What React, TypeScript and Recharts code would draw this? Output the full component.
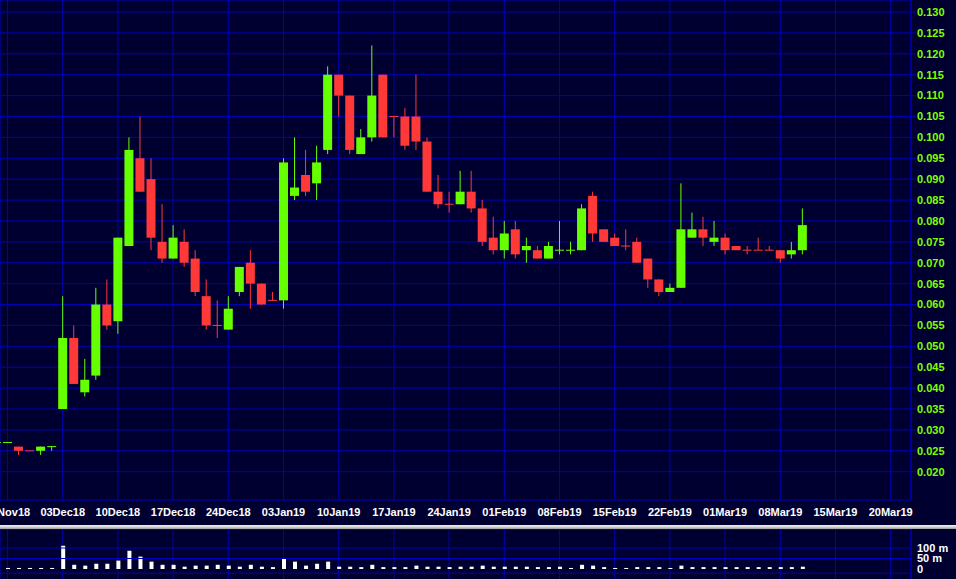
import React from 'react';
import { ComposedChart, Bar, XAxis, YAxis, CartesianGrid, ReferenceLine } from 'recharts';

// trading-day index of each candle = array position (0 = 23Nov18, 73 = 12Mar19)
const opens = [0.027, 0.027, 0.026, 0.025, 0.025, 0.026, 0.035, 0.052, 0.039, 0.043, 0.06, 0.056, 0.074, 0.095, 0.09, 0.075, 0.071, 0.075, 0.071, 0.062, 0.055, 0.054, 0.063, 0.07, 0.065, 0.061, 0.061, 0.086, 0.091, 0.089, 0.097, 0.115, 0.11, 0.096, 0.1, 0.115, 0.105, 0.105, 0.105, 0.099, 0.087, 0.084, 0.084, 0.087, 0.083, 0.076, 0.073, 0.078, 0.073, 0.073, 0.071, 0.073, 0.073, 0.073, 0.086, 0.078, 0.076, 0.074, 0.075, 0.071, 0.066, 0.063, 0.064, 0.076, 0.078, 0.075, 0.076, 0.074, 0.073, 0.073, 0.073, 0.073, 0.072, 0.073];
const highs = [0.027, 0.027, 0.026, 0.025, 0.026, 0.026, 0.062, 0.055, 0.047, 0.064, 0.066, 0.076, 0.1, 0.105, 0.095, 0.084, 0.079, 0.078, 0.073, 0.066, 0.061, 0.062, 0.069, 0.073, 0.065, 0.063, 0.095, 0.1, 0.097, 0.098, 0.117, 0.115, 0.11, 0.102, 0.122, 0.115, 0.105, 0.107, 0.115, 0.1, 0.091, 0.087, 0.092, 0.092, 0.085, 0.081, 0.08, 0.08, 0.076, 0.074, 0.075, 0.08, 0.075, 0.084, 0.087, 0.078, 0.077, 0.078, 0.076, 0.071, 0.066, 0.065, 0.089, 0.082, 0.081, 0.08, 0.077, 0.074, 0.074, 0.076, 0.074, 0.073, 0.075, 0.083];
const lows = [0.027, 0.027, 0.024, 0.025, 0.024, 0.025, 0.035, 0.041, 0.038, 0.042, 0.054, 0.053, 0.074, 0.087, 0.073, 0.07, 0.071, 0.069, 0.062, 0.054, 0.052, 0.054, 0.062, 0.059, 0.06, 0.061, 0.059, 0.085, 0.086, 0.085, 0.096, 0.105, 0.096, 0.096, 0.099, 0.1, 0.1, 0.097, 0.097, 0.087, 0.083, 0.082, 0.084, 0.082, 0.074, 0.072, 0.071, 0.071, 0.07, 0.071, 0.071, 0.072, 0.072, 0.073, 0.075, 0.075, 0.074, 0.073, 0.07, 0.064, 0.062, 0.063, 0.064, 0.076, 0.074, 0.074, 0.072, 0.073, 0.072, 0.073, 0.073, 0.07, 0.071, 0.072];
const closes = [0.027, 0.027, 0.025, 0.025, 0.026, 0.026, 0.052, 0.041, 0.042, 0.06, 0.055, 0.076, 0.097, 0.087, 0.076, 0.071, 0.076, 0.07, 0.063, 0.055, 0.055, 0.059, 0.069, 0.065, 0.06, 0.061, 0.094, 0.088, 0.087, 0.094, 0.115, 0.11, 0.097, 0.1, 0.11, 0.1, 0.105, 0.098, 0.099, 0.087, 0.084, 0.084, 0.087, 0.083, 0.075, 0.073, 0.077, 0.072, 0.074, 0.071, 0.074, 0.073, 0.073, 0.083, 0.077, 0.075, 0.074, 0.074, 0.07, 0.066, 0.063, 0.064, 0.078, 0.078, 0.076, 0.076, 0.073, 0.073, 0.073, 0.073, 0.073, 0.071, 0.073, 0.079];
// volume in millions
const volumes = [4, 5, 5, 5, 5, 5, 111, 20, 16, 25, 25, 40, 87, 59, 35, 20, 20, 11, 16, 16, 20, 16, 11, 20, 11, 9, 49, 35, 16, 25, 35, 11, 11, 9, 20, 9, 9, 9, 16, 11, 11, 9, 11, 11, 16, 11, 11, 11, 11, 9, 9, 11, 5, 20, 16, 9, 5, 5, 9, 9, 9, 5, 16, 9, 9, 9, 9, 9, 9, 9, 9, 9, 9, 11];
// unchanged-price days drawn in green
const dojiUp = [0, 1, 5, 51, 52];

const tickIndex = [1, 6, 11, 16, 21, 26, 31, 36, 41, 46, 51, 56, 61, 66, 71, 76, 81];
const tickLabels = ['26Nov18', '03Dec18', '10Dec18', '17Dec18', '24Dec18', '03Jan19', '10Jan19', '17Jan19', '24Jan19', '01Feb19', '08Feb19', '15Feb19', '22Feb19', '01Mar19', '08Mar19', '15Mar19', '20Mar19'];
const priceTicks = [0.02, 0.025, 0.03, 0.035, 0.04, 0.045, 0.05, 0.055, 0.06, 0.065, 0.07, 0.075, 0.08, 0.085, 0.09, 0.095, 0.1, 0.105, 0.11, 0.115, 0.12, 0.125, 0.13];
const volumeTicks = [0, 50, 100];
const volumeGrid = [100, 50, -20];

const X_DOMAIN: [number, number] = [0.32, 82.84];
const PRICE_DOMAIN: [number, number] = [0.013226, 0.132871];
const VOL_DOMAIN: [number, number] = [-47.6, 190.5];
const EPS = 0.0002;

const BG = '#000030';
const GRID = '#0000b8';
const UP = '#66ff00';
const DOWN = '#ff3838';
const FONT = '"Liberation Sans", Arial, sans-serif';

const data = opens.map((o, i) => ({
  i,
  o,
  h: highs[i],
  l: lows[i],
  c: closes[i],
  v: volumes[i],
  up: closes[i] > o || (closes[i] === o && dojiUp.includes(i)),
}));

const rangeKey = (d: any) => [d.l, d.h === d.l ? d.h + EPS : d.h];

const Candle = (props: any) => {
  const { x, y, width, height, payload } = props;
  if (x == null || y == null || !payload) return null;
  const { o, h, l, c, up } = payload;
  const hi = h === l ? h + EPS : h;
  const top = Math.min(y, y + height);
  const hgt = Math.abs(height);
  const py = (v: number) => top + ((hi - v) / (hi - l)) * hgt;
  const cx = x + width / 2;
  const color = up ? UP : DOWN;
  const bTop = py(Math.max(o, c));
  let bBot = py(Math.min(o, c));
  let bodyTop = bTop;
  if (bBot - bTop < 1) {
    bodyTop = bTop - 0.5;
    bBot = bTop + 0.5;
  }
  return (
    <g>
      <rect x={cx - 0.5} y={py(h)} width={1} height={Math.max(py(l) - py(h), 0)} fill={color} />
      <rect x={cx - width / 2} y={bodyTop} width={width} height={bBot - bodyTop} fill={color} />
    </g>
  );
};

const tickFmt = (v: number) => {
  const k = tickIndex.indexOf(v);
  return k >= 0 ? tickLabels[k] : '';
};

export default function App() {
  return (
    <div
      style={{
        position: 'fixed',
        left: 0,
        top: 0,
        width: 956,
        height: 579,
        background: BG,
        overflow: 'hidden',
        fontFamily: FONT,
      }}
    >
      <div style={{ position: 'absolute', left: 0, top: 0 }}>
        <ComposedChart width={956} height={525} data={data} margin={{ top: 0, right: 0, bottom: 0, left: 0 }}>
          <CartesianGrid stroke={GRID} strokeWidth={1} />
          <XAxis
            type="number"
            dataKey="i"
            domain={X_DOMAIN}
            allowDataOverflow
            ticks={tickIndex}
            interval={0}
            tickFormatter={tickFmt}
            height={25}
            axisLine={false}
            tickLine={false}
            tickSize={6}
            tickMargin={2}
            tick={{ fill: '#ffffff', fontSize: 11, fontWeight: 'bold', fontFamily: FONT }}
          />
          <YAxis
            orientation="right"
            domain={PRICE_DOMAIN}
            allowDataOverflow
            ticks={priceTicks}
            interval={0}
            tickFormatter={(v: number) => v.toFixed(3)}
            width={45}
            stroke={GRID}
            tickSize={5}
            tickMargin={1}
            tick={{ fill: '#80ff00', fontSize: 11, fontWeight: 'bold', fontFamily: FONT, textAnchor: 'start' }}
          />
          <Bar dataKey={rangeKey} barSize={9} shape={<Candle />} isAnimationActive={false} />
        </ComposedChart>
      </div>
      <div
        style={{
          position: 'absolute',
          left: 0,
          top: 525,
          width: 956,
          height: 4,
          background: 'linear-gradient(#f0f0f0, #d8d8d8 45%, #9a9a9a)',
        }}
      />
      <div style={{ position: 'absolute', left: 0, top: 529, width: 911, height: 1, background: GRID }} />
      <div style={{ position: 'absolute', left: 0, top: 529 }}>
        <ComposedChart width={956} height={50} data={data} margin={{ top: 0, right: 0, bottom: 0, left: 0 }}>
          <CartesianGrid stroke={GRID} horizontal={false} />
          <XAxis type="number" dataKey="i" domain={X_DOMAIN} allowDataOverflow ticks={tickIndex} interval={0} hide height={0} />
          <YAxis
            orientation="right"
            domain={VOL_DOMAIN}
            allowDataOverflow
            ticks={volumeTicks}
            interval={0}
            tickFormatter={(v: number) => (v === 0 ? '0' : `${v} m`)}
            width={45}
            stroke={GRID}
            tickLine={false}
            tickSize={5}
            tickMargin={1}
            tick={{ fill: '#ffffff', fontSize: 11, fontWeight: 'bold', fontFamily: FONT, textAnchor: 'start' }}
          />
          {volumeGrid.map((g) => (
            <ReferenceLine key={g} y={g} stroke={GRID} />
          ))}
          <Bar dataKey="v" barSize={4} fill="#ffffff" isAnimationActive={false} />
        </ComposedChart>
      </div>
    </div>
  );
}
